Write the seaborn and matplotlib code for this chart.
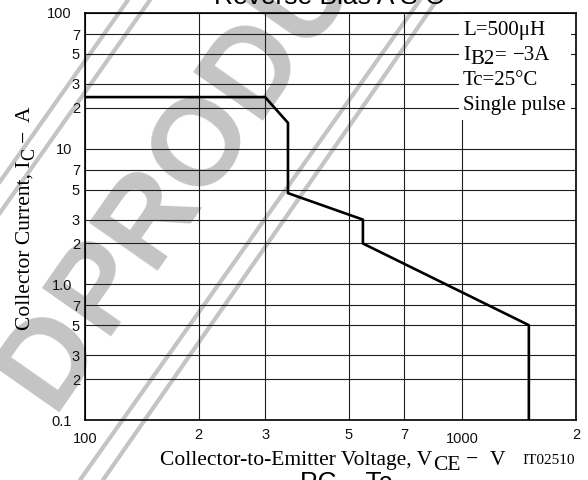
import math
import matplotlib
matplotlib.use("Agg")
import matplotlib.pyplot as plt
from matplotlib.patches import Rectangle
from matplotlib.lines import Line2D
from matplotlib.transforms import IdentityTransform
import numpy as np
import pandas as pd
import seaborn as sns

# ---------------- data ----------------
vce = [100, 300, 345, 345, 545, 545, 1500, 1500]
ic = [24, 24, 15.5, 4.7, 3.0, 2.0, 0.5, 0.1]

x_major = [100, 1000]
x_major_labels = ["100", "1000"]
x_minor = [200, 300, 500, 700, 2000]
x_minor_labels = ["2", "3", "5", "7", "2"]
y_major = [0.1, 1, 10, 100]
y_major_labels = ["0.1", "1.0", "10", "100"]
y_minor = [0.2, 0.3, 0.5, 0.7, 2, 3, 5, 7, 20, 30, 50, 70]
y_minor_labels = ["2", "3", "5", "7"] * 3

title = "Reverse Bias A S O"
cond_L = "L=500μH"
cond_T = "Tc=25°C"
cond_P = "Single pulse"
fig_code = "IT02510"

# ---------------- style ----------------
sns.set_theme(style="white")
plt.rcParams["font.family"] = ["Liberation Sans", "DejaVu Sans"]
SERIF = ["Liberation Serif", "DejaVu Serif"]
SANS = ["Liberation Sans", "DejaVu Sans"]

W, H = 588, 480
fig = plt.figure(figsize=(W / 100, H / 100), dpi=100)
fig.patch.set_facecolor("white")
ax = fig.add_axes([85 / W, 60 / H, 491 / W, 407 / H])
ax.set_facecolor("none")

df = pd.DataFrame({"VCE": vce, "IC": ic})
sns.lineplot(data=df, x="VCE", y="IC", sort=False, estimator=None,
             color="black", lw=1.9, ax=ax, zorder=3)
ax.set_xscale("log")
ax.set_yscale("log")
ax.set_xlim(100, 2000)
ax.set_ylim(0.1, 100)
ax.set_xlabel("")
ax.set_ylabel("")

ax.set_xticks(x_major, x_major_labels)
ax.set_xticks(x_minor, x_minor_labels, minor=True)
ax.set_yticks(y_major, y_major_labels)
ax.set_yticks(y_minor, y_minor_labels, minor=True)
ax.tick_params(which="both", length=0, labelsize=10.5, labelcolor="#111111")
ax.tick_params(axis="x", which="major", pad=8.6)
ax.tick_params(axis="x", which="minor", pad=6.0)
ax.tick_params(axis="y", which="major", pad=9.4)
ax.tick_params(axis="y", which="minor", pad=3.6)
for lab in ax.get_xticklabels(which="both") + ax.get_yticklabels(which="both"):
    lab.set_family(SANS)
ax.grid(which="both", color="#1e1e1e", lw=0.8)
for s in ax.spines.values():
    s.set_visible(True)
    s.set_color("black")
    s.set_linewidth(1.2)

# white panel behind the conditions
ax.add_patch(Rectangle(((459 - 85) / 491, (420 - 120) / 407), (571 - 459) / 491,
                       (120 - 14) / 407, transform=ax.transAxes,
                       facecolor="white", edgecolor="none", zorder=2))

# ---------------- watermark ----------------
wm = "#c4c4c4"
def fp(x, y):
    return (x / W, 1 - y / H)

for xa, xb in [(420, 80), (437, 103)]:
    (x1, y1), (x2, y2) = fp(xa, 0), fp(xb, 480)
    fig.add_artist(Line2D([x1, x2], [y1, y2], transform=fig.transFigure,
                          color=wm, lw=3.0, zorder=-1))
for x0 in [128, 150]:
    (x1, y1), (x2, y2) = fp(x0, 0), fp(x0 - 0.705 * 480, 480)
    fig.add_artist(Line2D([x1, x2], [y1, y2], transform=fig.transFigure,
                          color=wm, lw=3.0, zorder=-1))
fig.text(*fp(104, 336), "PRODUCT", rotation=55, rotation_mode="anchor",
         ha="left", va="baseline", fontsize=88, fontweight="bold",
         color=wm, zorder=-1, family=SANS)
fig.text(*fp(52, 412), "D", rotation=55, rotation_mode="anchor",
         ha="left", va="baseline", fontsize=88, fontweight="bold",
         color=wm, zorder=-1, family=SANS)

# ---------------- text runs (for big subscripts) ----------------
renderer = fig.canvas.get_renderer()

def runs(parts, x, y, rotation=0, family=SERIF, zorder=5):
    th = math.radians(rotation)
    ux, uy = math.cos(th), math.sin(th)
    dx, dy = math.sin(th), -math.cos(th)
    for text, drop, size, gap in parts:
        t = fig.text(x + drop * dx, y + drop * dy, text,
                     transform=IdentityTransform(), rotation=rotation,
                     rotation_mode="anchor", ha="left", va="baseline",
                     fontsize=size, family=family, color="black", zorder=zorder)
        w, _, _ = renderer.get_text_width_height_descent(
            text, t.get_fontproperties(), ismath=False)
        x += (w + gap) * ux
        y += (w + gap) * uy

# x label
runs([("Collector-to-Emitter Voltage, V", 0, 15.5, 1),
      ("CE", 5, 15.5, 5), ("−", 0, 15.5, 12), ("V", 0, 15.5, 0)], 160, H - 465)
# y label
runs([("Collector Current, I", 0, 15.5, 0),
      ("C", 4, 13, 6), ("−", 0, 15.5, 8), ("A", 0, 15.5, 0)], 30, H - 330,
     rotation=90)
# conditions
runs([(cond_L, 0, 15, 0)], 463, H - 35)
runs([("I", 0, 15, 0), ("B2", 4, 15, 1), ("=", 0, 15, 6), ("−3A", 0, 15, 0)],
     463, H - 60)
runs([(cond_T, 0, 15, 0)], 463, H - 85)
runs([(cond_P, 0, 15, 0)], 463, H - 110)

fig.text(575, H - 464, fig_code, transform=IdentityTransform(), ha="right",
         va="baseline", fontsize=11, family=SERIF, color="black")
fig.text(330, H - 4, title, transform=IdentityTransform(), ha="center",
         va="baseline", fontsize=19, family=SANS, color="black")
fig.text(300, H - 490, "PC – Tc", transform=IdentityTransform(), ha="left",
         va="baseline", fontsize=19, family=SANS, color="black")

fig.savefig("out.png", dpi=100, facecolor="white")
